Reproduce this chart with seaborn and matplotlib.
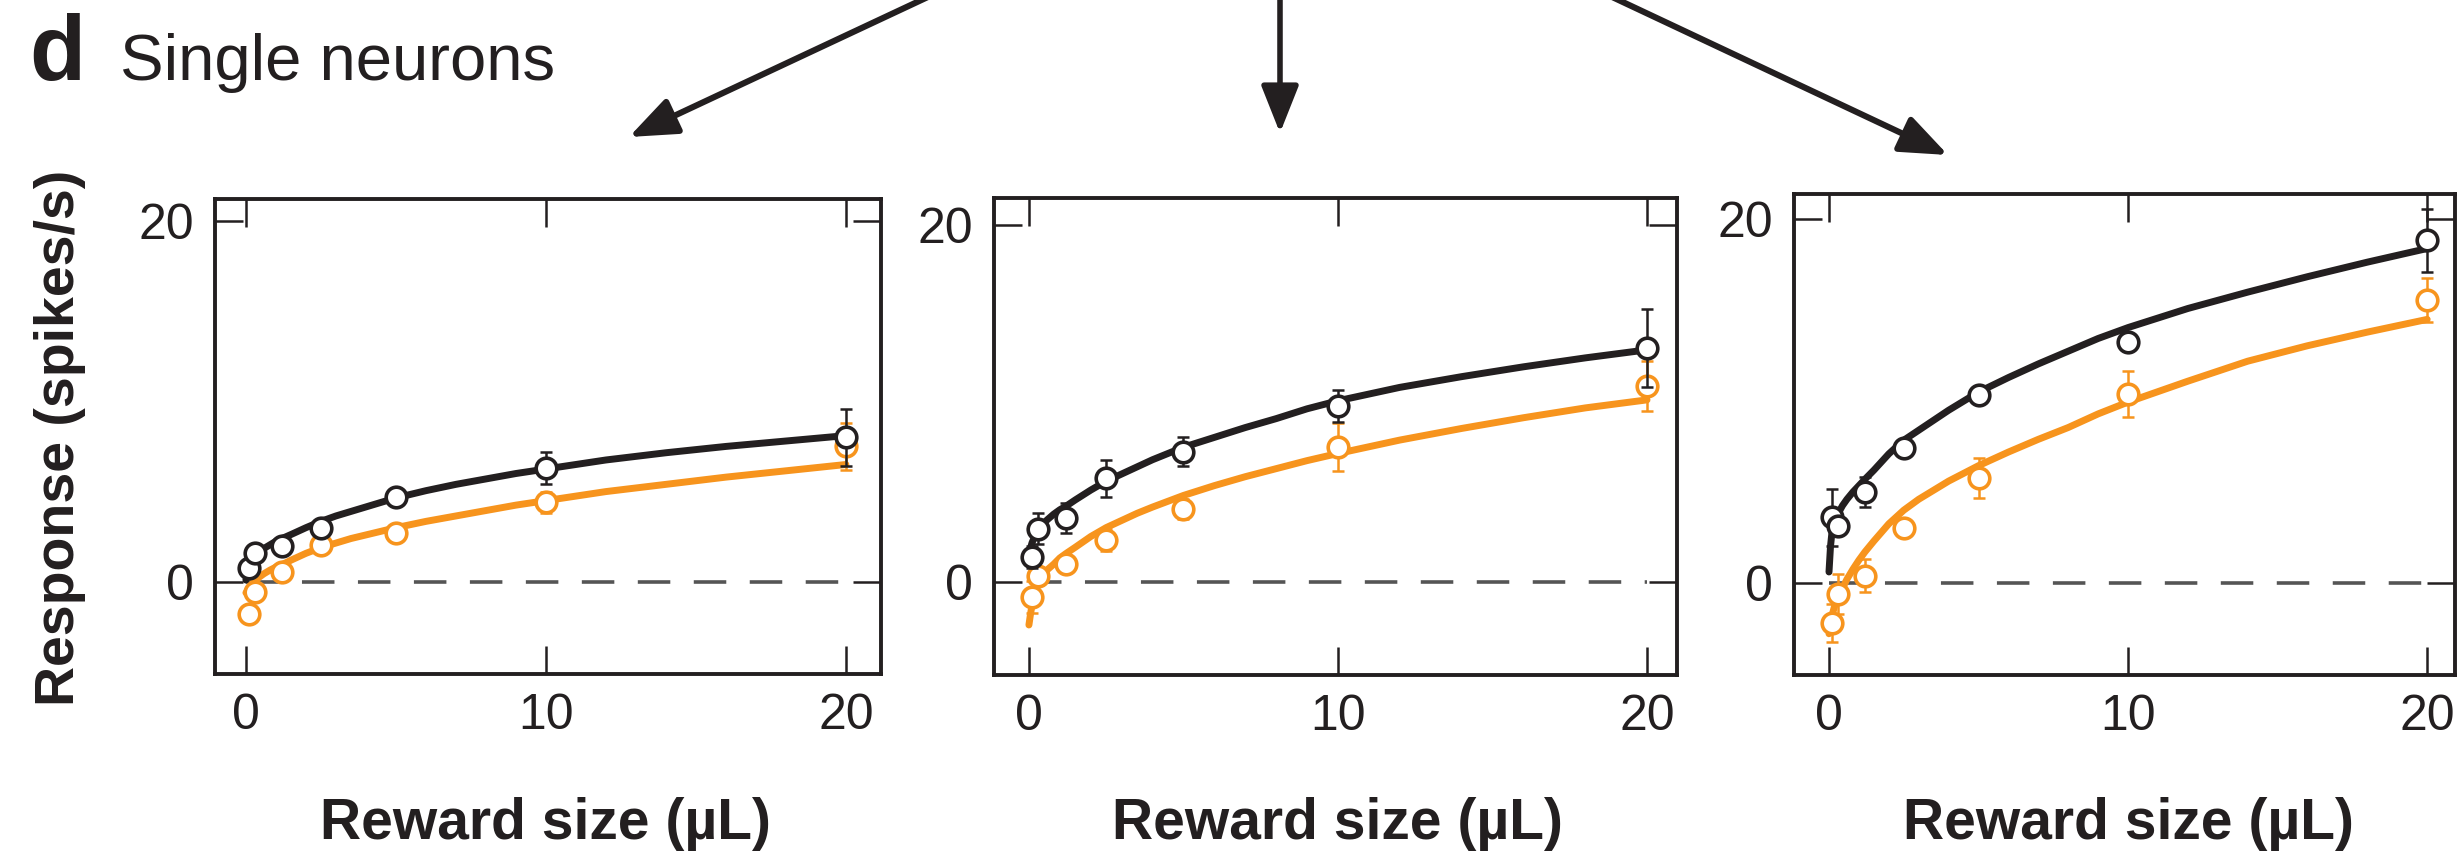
import matplotlib
matplotlib.use("Agg")
import matplotlib.pyplot as plt
import seaborn as sns
from matplotlib.patches import FancyArrowPatch
from matplotlib.transforms import blended_transform_factory

# reward sizes (uL) of the measured points
REWARD = [0.1, 0.3, 1.2, 2.5, 5, 10, 20]

FIT_X = [0, 0.05, 0.1, 0.2, 0.3, 0.45, 0.6, 0.8, 1.0, 1.2, 1.5, 2.0, 2.5, 3.0,
         3.5, 4, 5, 6, 7, 8, 9, 10, 12, 14, 16, 18, 20]

# neuron 1
n1_free_mean = [0.75, 1.6, 2.0, 3.0, 4.7, 6.3, 8.0]
n1_free_err = [0.3, 0.3, 0.3, 0.3, 0.3, 0.9, 1.6]
n1_cued_mean = [-1.8, -0.55, 0.55, 2.05, 2.7, 4.4, 7.5]
n1_cued_err = [0.3, 0.3, 0.3, 0.3, 0.3, 0.6, 1.3]
n1_free_fit = [0.1, 0.55, 0.85, 1.15, 1.4, 1.65, 1.85, 2.05, 2.25, 2.4, 2.62, 3.0, 3.35,
               3.65, 3.9, 4.15, 4.65, 5.05, 5.4, 5.7, 6.0, 6.25, 6.75, 7.15, 7.5, 7.8, 8.1]
n1_cued_fit = [-0.6, -0.5, -0.35, -0.12, 0.05, 0.27, 0.45, 0.65, 0.82, 0.95, 1.2, 1.58, 1.9,
               2.15, 2.4, 2.6, 3.0, 3.35, 3.65, 3.95, 4.25, 4.5, 5.0, 5.4, 5.8, 6.15, 6.5]

# neuron 2
n2_free_mean = [1.4, 3.0, 3.6, 5.8, 7.3, 9.85, 13.1]
n2_free_err = [0.6, 0.85, 0.85, 1.05, 0.8, 0.9, 2.2]
n2_cued_mean = [-0.85, 0.35, 1.0, 2.35, 4.1, 7.55, 11.0]
n2_cued_err = [0.9, 0.5, 0.4, 0.6, 0.55, 1.35, 1.4]
n2_free_fit = [1.5, 1.9, 2.2, 2.6, 2.9, 3.25, 3.5, 3.8, 4.05, 4.25, 4.6, 5.15, 5.65,
               6.05, 6.45, 6.85, 7.55, 8.1, 8.65, 9.15, 9.7, 10.15, 10.9, 11.5, 12.05, 12.55, 13.0]
n2_cued_fit = [-2.4, -1.8, -1.3, -0.6, -0.1, 0.35, 0.7, 1.0, 1.35, 1.6, 1.95, 2.55, 3.05,
               3.45, 3.85, 4.2, 4.85, 5.4, 5.9, 6.35, 6.8, 7.2, 7.95, 8.6, 9.2, 9.75, 10.2]

# neuron 3
n3_free_mean = [3.6, 3.15, 5.0, 7.4, 10.35, 13.25, 18.85]
n3_free_err = [1.55, 0.4, 0.8, 0.3, 0.3, 0.3, 1.75]
n3_cued_mean = [-2.2, -0.6, 0.4, 3.0, 5.75, 10.4, 15.55]
n3_cued_err = [1.05, 1.1, 0.9, 0.3, 1.1, 1.25, 1.2]
n3_free_fit = [0.6, 2.0, 2.8, 3.4, 3.8, 4.25, 4.6, 5.0, 5.35, 5.7, 6.2, 7.1, 7.85,
               8.4, 8.95, 9.5, 10.5, 11.3, 12.05, 12.75, 13.45, 14.05, 15.1, 16.0, 16.85, 17.65, 18.4]
n3_cued_fit = [-2.8, -2.3, -1.8, -1.2, -0.8, -0.3, 0.2, 0.75, 1.25, 1.7, 2.3, 3.25, 4.0,
               4.6, 5.1, 5.6, 6.45, 7.2, 7.9, 8.55, 9.3, 9.95, 11.1, 12.2, 13.05, 13.8, 14.5]

X_TICKS = [0, 10, 20]
Y_TICKS = [0, 20]

BLACK = "#231f20"
ORANGE = "#f7941d"
W, H = 2458, 856

sns.set_theme(style="ticks")
plt.rcParams["font.family"] = ["Liberation Sans", "DejaVu Sans"]

fig = plt.figure(figsize=(W / 100, H / 100), dpi=100)

# axes boxes in pixels: left, top, right, bottom ; plus limits
panels = [
    dict(box=(215, 199, 881, 674), xlim=(-1.03, 21.17), ylim=(-5.1, 21.2),
         free=(n1_free_mean, n1_free_err, n1_free_fit),
         cued=(n1_cued_mean, n1_cued_err, n1_cued_fit)),
    dict(box=(994, 198, 1677, 675), xlim=(-1.13, 20.97), ylim=(-5.2, 21.5),
         free=(n2_free_mean, n2_free_err, n2_free_fit),
         cued=(n2_cued_mean, n2_cued_err, n2_cued_fit)),
    dict(box=(1794, 194, 2455, 675), xlim=(-1.17, 20.93), ylim=(-5.07, 21.4),
         free=(n3_free_mean, n3_free_err, n3_free_fit),
         cued=(n3_cued_mean, n3_cued_err, n3_cued_fit)),
]

for i, p in enumerate(panels):
    l, t, r, b = p["box"]
    ax = fig.add_axes([l / W, 1 - b / H, (r - l) / W, (b - t) / H])

    ax.hlines(0, 0, 20, colors="#555555", linestyles=(0, (9, 6.5)), lw=2.6, zorder=1)

    # fitted curves
    sns.lineplot(x=FIT_X, y=p["cued"][2], ax=ax, color=ORANGE, lw=5, sort=False,
                 estimator=None, zorder=2)
    sns.lineplot(x=FIT_X, y=p["free"][2], ax=ax, color=BLACK, lw=5, sort=False,
                 estimator=None, zorder=3)

    # data points with error bars
    for (mean, err, _), col, z in [(p["cued"], ORANGE, 4), (p["free"], BLACK, 6)]:
        ax.errorbar(REWARD, mean, yerr=err, fmt="none", ecolor=col, elinewidth=1.8,
                    capsize=4.5, capthick=1.8, zorder=z)
        sns.scatterplot(x=REWARD, y=mean, ax=ax, s=220, marker="o", facecolor="white",
                        edgecolor=col, linewidth=2.6, zorder=z + 1)

    ax.set_xlim(p["xlim"])
    ax.set_ylim(p["ylim"])
    ax.set_xticks(X_TICKS)
    ax.set_yticks(Y_TICKS)
    ax.tick_params(direction="in", length=20, width=1.8, top=True, right=True,
                   labelsize=36, colors=BLACK, pad=14)
    ax.tick_params(axis="y", pad=15)
    for s in ax.spines.values():
        s.set_linewidth(2.8)
        s.set_color(BLACK)
    ax.set_xlabel("Reward size (µL)", fontsize=41, fontweight="bold", color=BLACK)
    ax.xaxis.set_label_coords(10, 1 - 797 / H,
                              transform=blended_transform_factory(ax.transData, fig.transFigure))
    ax.set_ylabel("")

fig.text(60 / W, 1 - 438 / H, "Response (spikes/s)", rotation=90, ha="center",
         va="center", fontsize=40, fontweight="bold", color=BLACK)

fig.text(29 / W, 1 - 80 / H, "d", fontsize=66, fontweight="bold", color=BLACK,
         va="baseline")
fig.text(120 / W, 1 - 80 / H, "Single neurons", fontsize=47, color=BLACK,
         va="baseline")

# arrows coming from the panel above
for (x0, y0), (x1, y1), lw in [((930, -4), (629, 137), 4.4),
                               ((1280, -4), (1280, 133), 4.0),
                               ((1610, -4), (1948, 155), 4.4)]:
    arr = FancyArrowPatch((x0 / W, 1 - y0 / H), (x1 / W, 1 - y1 / H),
                          transform=fig.transFigure,
                          arrowstyle="-|>,head_length=2.9,head_width=1.15",
                          mutation_scale=10, lw=lw, color=BLACK,
                          shrinkA=0, shrinkB=0)
    fig.add_artist(arr)

fig.savefig("out.png", dpi=100)
